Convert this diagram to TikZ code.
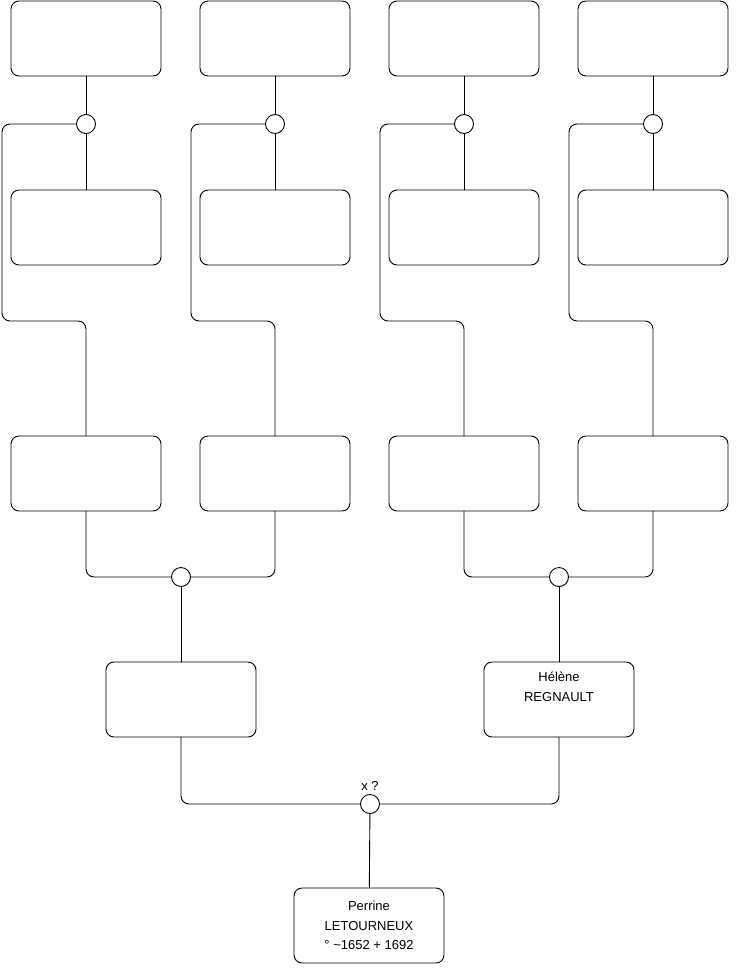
\documentclass[tikz,border=0pt]{standalone}
\usepackage{fontspec}
\setmainfont{Liberation Sans}
\usepackage{tikz}
\usetikzlibrary{positioning}

\begin{document}
\begin{tikzpicture}[x=1pt, y=-1pt, line width=0.9pt,
  font=\fontsize{13}{19.5}\selectfont, node distance=39pt and 39pt,
  fiche/.style={draw, rounded corners=8pt, minimum width=150pt, minimum height=75pt, align=center, inner sep=0pt, outer sep=0pt},
  union/.style={draw, circle, minimum size=19pt, inner sep=0pt, outer sep=0pt, fill=white},
  lien/.style={rounded corners=8pt}]
  \useasboundingbox (0,0) rectangle (740,975);
  % arriere-grands-parents
  \node[fiche] (a1) at (86,38.5) {};
  \node[fiche, right=of a1] (a2) {};
  \node[fiche, right=of a2] (a3) {};
  \node[fiche, right=of a3] (a4) {};
  \node[fiche, below=114pt of a1] (b1) {};
  \node[fiche, below=114pt of a2] (b2) {};
  \node[fiche, below=114pt of a3] (b3) {};
  \node[fiche, below=114pt of a4] (b4) {};
  % grands-parents
  \node[fiche] (c1) at (86,473.5) {};
  \node[fiche, right=of c1] (c2) {};
  \node[fiche, right=of c2] (c3) {};
  \node[fiche, right=of c3] (c4) {};
  % parents
  \node[fiche] (d1) at (181,699.5) {};
  \node[fiche] (d2) at (559,699.5) {Hélène\\REGNAULT\\\strut};
  \node[fiche] (p) at (369,925.5) {Perrine\\LETOURNEUX\\° \textasciitilde1652 + 1692};
  % unions
  \node[union] (u1) at (86,124) {};
  \node[union] (u2) at (275,124) {};
  \node[union] (u3) at (464,124) {};
  \node[union] (u4) at (653,124) {};
  \node[union] (v1) at (181,577) {};
  \node[union] (v2) at (559,577) {};
  \node[union] (m) at (370,804) {};
  \node[above=0pt of m] (mlabel) {x ?};
  \coordinate (g1) at (2,321);
  \coordinate (g2) at (191,321);
  \coordinate (g3) at (380,321);
  \coordinate (g4) at (569,321);
  \foreach \i in {1,2,3,4} {
    \draw (a\i) -- (u\i);
    \draw (u\i) -- (b\i);
    \draw[lien] (u\i.west) -| (g\i) -| (c\i.north);
  }
  \draw[lien] (c1.south) |- (v1.west);
  \draw[lien] (c2.south) |- (v1.east);
  \draw[lien] (c3.south) |- (v2.west);
  \draw[lien] (c4.south) |- (v2.east);
  \draw (v1) -- (d1);
  \draw (v2) -- (d2);
  \draw[lien] (d1.south) |- (m.west);
  \draw[lien] (d2.south) |- (m.east);
  \draw (m) -- (p);
\end{tikzpicture}
\end{document}
